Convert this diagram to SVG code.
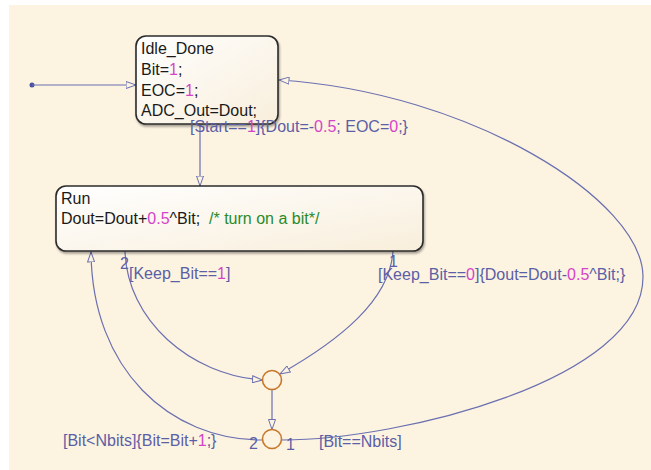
<svg xmlns="http://www.w3.org/2000/svg" width="651" height="470" viewBox="0 0 651 470">
<defs>
<linearGradient id="stateFill" x1="0" y1="0" x2="1" y2="1">
<stop offset="0" stop-color="#ffffff"/>
<stop offset="1" stop-color="#f8eedb"/>
</linearGradient>
<filter id="shadow" x="-10%" y="-10%" width="130%" height="140%">
<feDropShadow dx="1" dy="2" stdDeviation="1.2" flood-color="#000" flood-opacity="0.35"/>
</filter>
<marker id="arrow" viewBox="0 0 11 8" refX="10.5" refY="4" markerWidth="11" markerHeight="8" markerUnits="userSpaceOnUse" orient="auto">
<path d="M0.5,0.5 L10.5,4 L0.5,7.5 Z" fill="#fdf3e1" stroke="#6a70b0" stroke-width="1"/>
</marker>
<style>
.state{fill:url(#stateFill);stroke:#2b2b2b;stroke-width:1.6;filter:url(#shadow)}
.st{font-family:"Liberation Sans",Arial,sans-serif;font-size:16px;fill:#1a1a1a}
.lbl{font-family:"Liberation Sans",Arial,sans-serif;font-size:16px;fill:#5a5fa6}
.num{fill:#d444c8}
.cmt{fill:#2a8a2a}
.tr{fill:none;stroke:#6a70b0;stroke-width:1.2}
.jn{fill:none;stroke:#c8782a;stroke-width:1.6}
</style>
</defs>
<rect x="9" y="5" width="642" height="465" fill="#fdf3e1"/>

<g id="connectors">
<circle cx="32" cy="85" r="2.5" fill="#4a50a0"/>
<path class="tr" d="M32,85 L136,85" marker-end="url(#arrow)"/>
<path class="tr" d="M200,125 L200,186" marker-end="url(#arrow)"/>
<path class="tr" d="M125,251 C127,320 190,375 262.5,380" marker-end="url(#arrow)"/>
<path class="tr" d="M393,251 C390,300 340,340 280,374" marker-end="url(#arrow)"/>
<path class="tr" d="M272,389.5 L272,429.5" marker-end="url(#arrow)"/>
<path class="tr" d="M262,440 C170,440 92,370 91,252" marker-end="url(#arrow)"/>
<path class="tr" d="M282,440 C400,440 643,380 643,277 C643,200 470,92 279,80" marker-end="url(#arrow)"/>
</g>

<g id="Idle_Done">
<rect class="state" x="136" y="36" width="142" height="88" rx="10"/>
<text class="st" x="141" y="54">Idle_Done</text>
<text class="st" x="141" y="75">Bit=<tspan class="num">1</tspan>;</text>
<text class="st" x="141" y="95.5">EOC=<tspan class="num">1</tspan>;</text>
<text class="st" x="141" y="116">ADC_Out=Dout;</text>
</g>

<g id="Run">
<rect class="state" x="56" y="186" width="367" height="65" rx="10"/>
<text class="st" x="61" y="203.5">Run</text>
<text class="st" x="61" y="224" xml:space="preserve">Dout=Dout+<tspan class="num">0.5</tspan>^Bit;  <tspan class="cmt">/* turn on a bit*/</tspan></text>
</g>

<g id="junction1">
<circle class="jn" cx="272" cy="380" r="9.5"/>
</g>
<g id="junction2">
<circle class="jn" cx="272" cy="439" r="9.5"/>
</g>

<g id="labels">
<text class="lbl" x="190" y="132">[Start==<tspan class="num">1</tspan>]{Dout=-<tspan class="num">0.5</tspan>; EOC=<tspan class="num">0</tspan>;}</text>
<text class="lbl" x="120" y="269">2</text>
<text class="lbl" x="129" y="279">[Keep_Bit==<tspan class="num">1</tspan>]</text>
<text class="lbl" x="389" y="267">1</text>
<text class="lbl" x="378" y="280">[Keep_Bit==<tspan class="num">0</tspan>]{Dout=Dout-<tspan class="num">0.5</tspan>^Bit;}</text>
<text class="lbl" x="63" y="446">[Bit&lt;Nbits]{Bit=Bit+<tspan class="num">1</tspan>;}</text>
<text class="lbl" x="249" y="449">2</text>
<text class="lbl" x="286" y="450">1</text>
<text class="lbl" x="319" y="447">[Bit==Nbits]</text>
</g>
</svg>
